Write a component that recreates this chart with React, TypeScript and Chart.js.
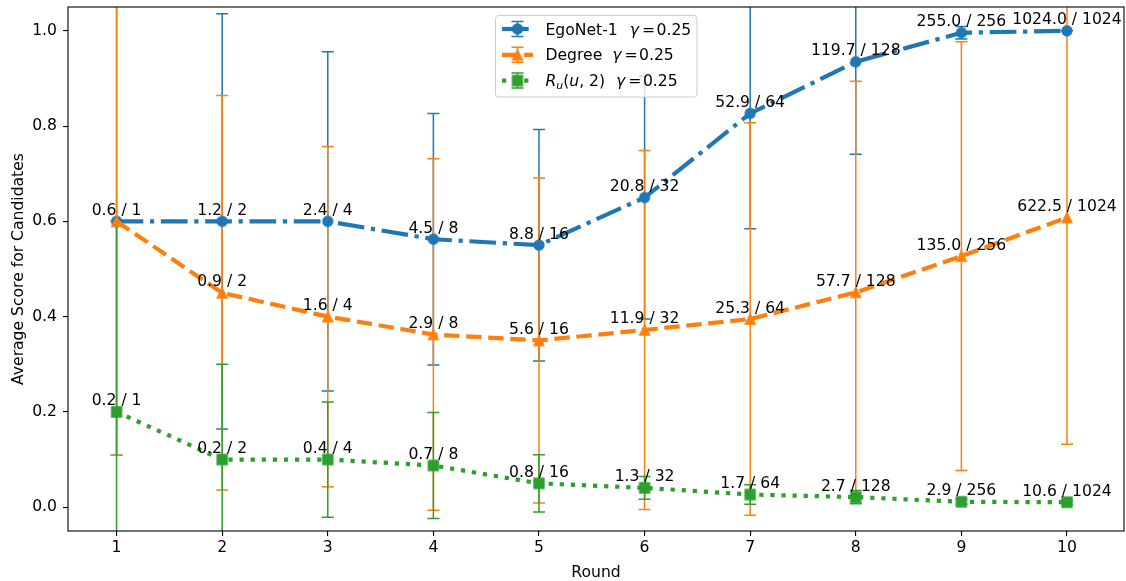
import { useEffect, useRef } from 'react';
import { Chart, registerables } from 'chart.js';

Chart.register(...registerables);

// ---------- data ----------
const rounds = [1, 2, 3, 4, 5, 6, 7, 8, 9, 10];
const yTicks = [0, 0.2, 0.4, 0.6, 0.8, 1.0];

const egoScores = [0.6, 0.6, 0.6, 0.5625, 0.55, 0.65, 0.8266, 0.935, 0.996, 1.0];
const egoErr = [0.491, 0.436, 0.356, 0.264, 0.243, 0.255, 0.242, 0.194, 0.013, 0.0];
const egoLabels = ['0.6 / 1', '1.2 / 2', '2.4 / 4', '4.5 / 8', '8.8 / 16', '20.8 / 32', '52.9 / 64', '119.7 / 128', '255.0 / 256', '1024.0 / 1024'];

const degreeScores = [0.6, 0.45, 0.4, 0.3625, 0.35, 0.372, 0.395, 0.451, 0.527, 0.608];
const degreeErr = [0.491, 0.414, 0.357, 0.369, 0.341, 0.377, 0.412, 0.443, 0.45, 0.476];
const degreeLabels = ['0.6 / 1', '0.9 / 2', '1.6 / 4', '2.9 / 8', '5.6 / 16', '11.9 / 32', '25.3 / 64', '57.7 / 128', '135.0 / 256', '622.5 / 1024'];

const ruScores = [0.2, 0.1, 0.1, 0.0875, 0.05, 0.0406, 0.0266, 0.0211, 0.0113, 0.0104];
const ruErr = [0.4, 0.2, 0.121, 0.111, 0.06, 0.024, 0.0203, 0.014, 0.005, 0.004];
const ruLabels = ['0.2 / 1', '0.2 / 2', '0.4 / 4', '0.7 / 8', '0.8 / 16', '1.3 / 32', '1.7 / 64', '2.7 / 128', '2.9 / 256', '10.6 / 1024'];

const xLabel = 'Round';
const yLabel = 'Average Score for Candidates';

// ---------- style ----------
const FAMILY = '"DejaVu Sans", sans-serif';
const FS = 15.6;
const BLUE = '#1f77b4';
const ORANGE = '#ff7f0e';
const GREEN = '#2ca02c';
const LW = 4.2;
const DASH_DOT = [26.7, 6.7, 4.2, 6.7];
const DASHED = [15.4, 6.7];
const DOTTED = [4.2, 6.9];

type Shape = 'circle' | 'triangle' | 'square';

function makeMarker(shape: Shape, color: string): HTMLCanvasElement {
  const s = 14;
  const c = document.createElement('canvas');
  c.width = s;
  c.height = s;
  const ctx = c.getContext('2d')!;
  const m = s / 2;
  const r = 5;
  ctx.fillStyle = color;
  ctx.strokeStyle = color;
  ctx.lineWidth = 1.3;
  ctx.lineJoin = 'miter';
  ctx.beginPath();
  if (shape === 'circle') ctx.arc(m, m, r, 0, Math.PI * 2);
  else if (shape === 'triangle') {
    ctx.moveTo(m, m - r);
    ctx.lineTo(m - r, m + r);
    ctx.lineTo(m + r, m + r);
    ctx.closePath();
  } else ctx.rect(m - r, m - r, 2 * r, 2 * r);
  ctx.fill();
  ctx.stroke();
  return c;
}

type Part = { t: string; italic?: boolean; size?: number; dy?: number; dx?: number };

function drawRich(ctx: CanvasRenderingContext2D, parts: Part[], x: number, y: number) {
  let cx = x;
  for (const p of parts) {
    ctx.font = `${p.italic ? 'italic ' : ''}${p.size || FS}px ${FAMILY}`;
    cx += p.dx || 0;
    ctx.fillText(p.t, cx, y + (p.dy || 0));
    cx += ctx.measureText(p.t).width;
  }
}

const zeroPad = (scale: any) => {
  scale.paddingTop = 0;
  scale.paddingBottom = 0;
  scale.paddingLeft = 0;
  scale.paddingRight = 0;
};

export default function App() {
  const ref = useRef<HTMLCanvasElement | null>(null);

  useEffect(() => {
    if (!ref.current) return;
    const mCircle = makeMarker('circle', BLUE);
    const mTri = makeMarker('triangle', ORANGE);
    const mSq = makeMarker('square', GREEN);

    const series = [
      { color: BLUE, values: egoScores, err: egoErr, labels: egoLabels, dash: DASH_DOT, marker: mCircle },
      { color: ORANGE, values: degreeScores, err: degreeErr, labels: degreeLabels, dash: DASHED, marker: mTri },
      { color: GREEN, values: ruScores, err: ruErr, labels: ruLabels, dash: DOTTED, marker: mSq },
    ];

    const errorBars = {
      id: 'errorBars',
      beforeDatasetsDraw(chart: any) {
        const { ctx, chartArea } = chart;
        const xs = chart.scales.x;
        const ys = chart.scales.y;
        ctx.save();
        ctx.beginPath();
        ctx.rect(chartArea.left, chartArea.top, chartArea.right - chartArea.left, chartArea.bottom - chartArea.top);
        ctx.clip();
        ctx.lineWidth = 1.5;
        ctx.lineCap = 'butt';
        for (const s of series) {
          ctx.strokeStyle = s.color;
          s.values.forEach((v, i) => {
            const px = xs.getPixelForValue(rounds[i]);
            const lo = ys.getPixelForValue(v - s.err[i]);
            const hi = ys.getPixelForValue(v + s.err[i]);
            ctx.beginPath();
            ctx.moveTo(px, lo);
            ctx.lineTo(px, hi);
            ctx.moveTo(px - 6, lo);
            ctx.lineTo(px + 6, lo);
            ctx.moveTo(px - 6, hi);
            ctx.lineTo(px + 6, hi);
            ctx.stroke();
          });
        }
        ctx.restore();
      },
      afterDatasetsDraw(chart: any) {
        const { ctx, chartArea } = chart;
        const xs = chart.scales.x;
        const ys = chart.scales.y;
        ctx.save();
        // annotations (identical labels at the same spot drawn once)
        ctx.fillStyle = '#000';
        ctx.font = `${FS}px ${FAMILY}`;
        ctx.textAlign = 'center';
        ctx.textBaseline = 'alphabetic';
        const drawn = new Set<string>();
        for (const s of series) {
          s.values.forEach((v, i) => {
            const px = xs.getPixelForValue(rounds[i]);
            const py = ys.getPixelForValue(v);
            const key = `${s.labels[i]}@${Math.round(px)},${Math.round(py)}`;
            if (drawn.has(key)) return;
            drawn.add(key);
            ctx.fillText(s.labels[i], px, py - 6.5);
          });
        }
        // spines
        ctx.strokeStyle = '#000';
        ctx.lineWidth = 1.1;
        ctx.strokeRect(chartArea.left, chartArea.top, chartArea.right - chartArea.left, chartArea.bottom - chartArea.top);
        // axis titles
        ctx.font = `${FS}px ${FAMILY}`;
        ctx.textAlign = 'center';
        ctx.fillText(xLabel, (chartArea.left + chartArea.right) / 2, 577);
        ctx.save();
        ctx.translate(22.7, (chartArea.top + chartArea.bottom) / 2);
        ctx.rotate(-Math.PI / 2);
        ctx.fillText(yLabel, 0, 0);
        ctx.restore();

        // legend
        const lx = 495.5, ly = 15.5, lw = 201.5, lh = 81.5;
        ctx.beginPath();
        ctx.roundRect(lx, ly, lw, lh, 3);
        ctx.fillStyle = 'rgba(255,255,255,0.8)';
        ctx.fill();
        ctx.strokeStyle = '#cccccc';
        ctx.lineWidth = 1;
        ctx.stroke();

        const rowY = [29, 54.8, 80.6];
        const hx0 = 502, hx1 = 533, hm = 517.5;
        const texts: Part[][] = [
          [{ t: 'EgoNet-1' }, { t: 'γ', italic: true, dx: 12 }, { t: '=', dx: 3 }, { t: '0.25', dx: 1.5 }],
          [{ t: 'Degree' }, { t: 'γ', italic: true, dx: 10 }, { t: '=', dx: 3 }, { t: '0.25', dx: 1.5 }],
          [
            { t: 'R', italic: true },
            { t: 'u', italic: true, size: 10.9, dy: 3 },
            { t: '(' },
            { t: 'u', italic: true },
            { t: ', 2)' },
            { t: 'γ', italic: true, dx: 11 },
            { t: '=', dx: 3 },
            { t: '0.25', dx: 1.5 },
          ],
        ];
        series.forEach((s, k) => {
          const cy = rowY[k];
          ctx.save();
          ctx.strokeStyle = s.color;
          ctx.lineWidth = LW;
          ctx.lineCap = 'butt';
          ctx.setLineDash(s.dash);
          ctx.beginPath();
          ctx.moveTo(hx0, cy);
          ctx.lineTo(hx1, cy);
          ctx.stroke();
          ctx.setLineDash([]);
          ctx.lineWidth = 1.5;
          ctx.beginPath();
          ctx.moveTo(hm, cy - 7.5);
          ctx.lineTo(hm, cy + 7.5);
          ctx.moveTo(hm - 6, cy - 7.5);
          ctx.lineTo(hm + 6, cy - 7.5);
          ctx.moveTo(hm - 6, cy + 7.5);
          ctx.lineTo(hm + 6, cy + 7.5);
          ctx.stroke();
          ctx.drawImage(s.marker, hm - s.marker.width / 2, cy - s.marker.height / 2);
          ctx.restore();
          ctx.fillStyle = '#000';
          ctx.textAlign = 'left';
          ctx.textBaseline = 'alphabetic';
          drawRich(ctx, texts[k], 545.5, cy + 5.6);
        });
        ctx.restore();
      },
    };

    const mk = (i: number, label: string, order: number) => {
      const s = series[i];
      return {
        label,
        data: rounds.map((r, j) => ({ x: r, y: s.values[j] })),
        borderColor: s.color,
        backgroundColor: s.color,
        borderWidth: LW,
        borderDash: s.dash,
        borderCapStyle: 'butt' as const,
        tension: 0,
        pointStyle: s.marker,
        pointRadius: 6,
        order,
        fill: false,
      };
    };

    const chart = new Chart(ref.current, {
      type: 'line',
      data: {
        datasets: [mk(0, 'EgoNet-1', 3), mk(1, 'Degree', 2), mk(2, 'R_u(u,2)', 1)],
      },
      options: {
        animation: false,
        responsive: false,
        devicePixelRatio: 1,
        events: [],
        layout: { autoPadding: false, padding: { top: 7, right: 2, left: 0, bottom: 0 } },
        plugins: { legend: { display: false }, tooltip: { enabled: false } },
        scales: {
          x: {
            type: 'linear',
            min: 0.54,
            max: 10.54,
            afterFit: (scale: any) => {
              scale.height = 50;
              zeroPad(scale);
            },
            afterBuildTicks: (scale: any) => {
              scale.ticks = rounds.map((v) => ({ value: v }));
            },
            border: { display: false },
            grid: { drawOnChartArea: false, drawTicks: true, tickLength: 5, color: '#000', lineWidth: 1.1 },
            ticks: {
              color: '#000',
              font: { family: FAMILY, size: FS },
              padding: 3,
              autoSkip: false,
              maxRotation: 0,
              callback: (v: any) => String(v),
            },
          },
          y: {
            type: 'linear',
            min: -0.05,
            max: 1.05,
            afterFit: (scale: any) => {
              scale.width = 68;
              zeroPad(scale);
            },
            afterBuildTicks: (scale: any) => {
              scale.ticks = yTicks.map((v) => ({ value: v }));
            },
            border: { display: false },
            grid: { drawOnChartArea: false, drawTicks: true, tickLength: 5, color: '#000', lineWidth: 1.1 },
            ticks: {
              color: '#000',
              font: { family: FAMILY, size: FS },
              padding: 6,
              callback: (v: any) => Number(v).toFixed(1),
            },
          },
        },
      },
      plugins: [errorBars],
    });

    return () => chart.destroy();
  }, []);

  return (
    <div style={{ position: 'fixed', left: 0, top: 0, width: 1126, height: 581, background: '#fff' }}>
      <canvas ref={ref} width={1126} height={581} style={{ display: 'block' }} />
    </div>
  );
}
